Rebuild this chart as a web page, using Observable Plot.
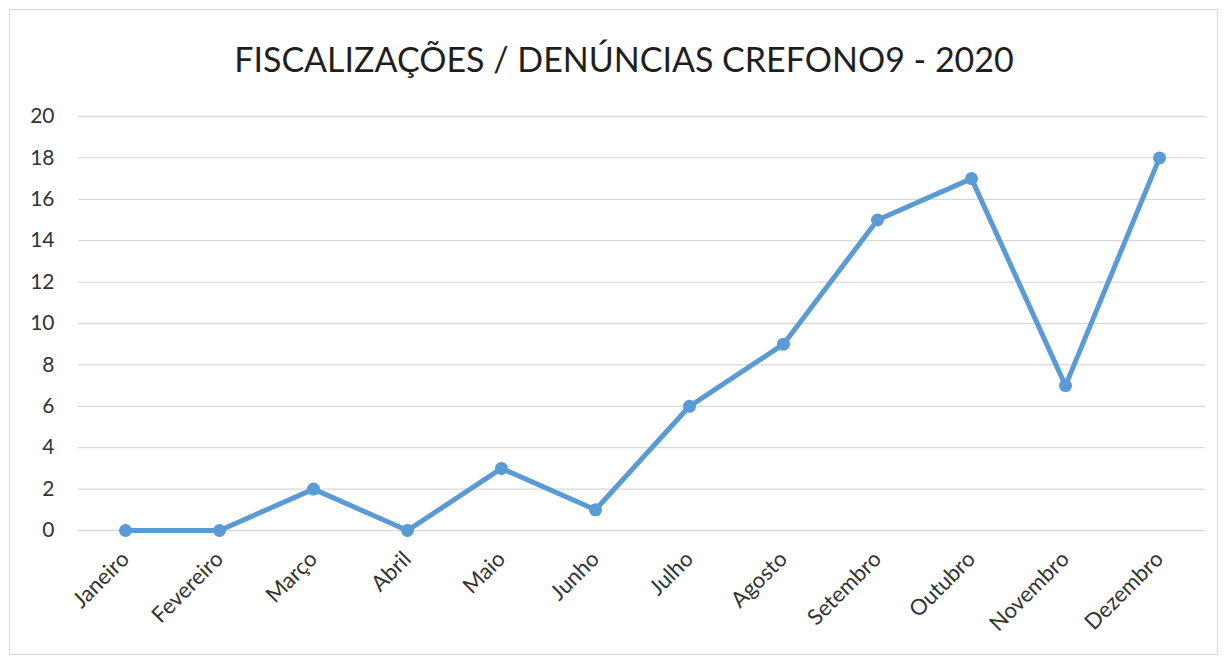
<!DOCTYPE html>
<html><head><meta charset="utf-8">
<script src="https://cdn.jsdelivr.net/npm/d3@7"></script>
<script src="https://cdn.jsdelivr.net/npm/@observablehq/plot@0.6"></script>
<style>
body{margin:0;background:#fff;font-family:Lato,sans-serif;}
#frame{position:absolute;left:9px;top:9px;width:1209px;height:646px;border:1px solid #d9d9d9;box-sizing:border-box;}
#title{position:absolute;left:0;width:1248px;top:38px;text-align:center;font-size:34px;color:#1f1f1f;font-family:Lato,sans-serif;}
#chart{position:absolute;left:0;top:100px;}
#chart text{font-size:21px;}
#chart g[aria-label="x-axis tick label"] text{font-size:22px;}
</style></head>
<body>
<div id="frame"></div>
<div id="title">FISCALIZAÇÕES / DENÚNCIAS CREFONO9 - 2020</div>
<div id="chart"></div>
<script>
const months = ["Janeiro","Fevereiro","Março","Abril","Maio","Junho","Julho","Agosto","Setembro","Outubro","Novembro","Dezembro"];
const values = [0,0,2,0,3,1,6,9,15,17,7,18];
const yTicks = [0,2,4,6,8,10,12,14,16,18,20];
const data = months.map((m,i)=>({month:m,value:values[i]}));
const chart = Plot.plot({
  width:1228, height:555,
  marginLeft:78, marginRight:23, marginTop:16, marginBottom:125,
  style:{fontFamily:"Lato, sans-serif", fontSize:"21px", color:"#333333", background:"transparent"},
  x:{type:"point", domain:months, padding:0.45, label:null},
  y:{domain:[0,20], ticks:yTicks, label:null},
  marks:[
    Plot.gridY(yTicks,{stroke:"#d9d9d9", strokeOpacity:1, strokeWidth:1.3}),
    Plot.axisY({ticks:yTicks, tickSize:0, tickPadding:24, label:null}),
    Plot.axisX({tickSize:0, tickPadding:25, tickRotate:-45, label:null}),
    Plot.line(data,{x:"month", y:"value", stroke:"#5b9bd5", strokeWidth:5}),
    Plot.dot(data,{x:"month", y:"value", fill:"#5b9bd5", r:6.5})
  ]
});
document.getElementById("chart").appendChild(chart);
</script>
</body></html>
